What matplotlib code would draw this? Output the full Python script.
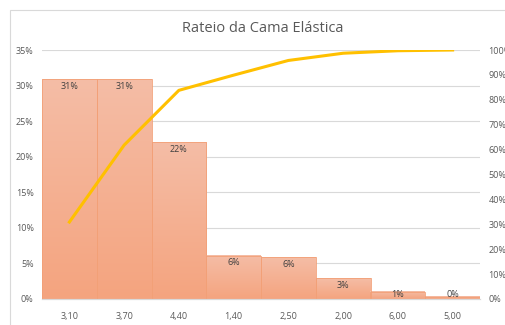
import matplotlib
matplotlib.use("Agg")
import matplotlib.pyplot as plt
import matplotlib.ticker as mticker
from matplotlib.colors import LinearSegmentedColormap
from matplotlib.patches import Rectangle
import numpy as np

# --- Data ---
categories = ["3,10", "3,70", "4,40", "1,40", "2,50", "2,00", "6,00", "5,00"]
share_pct = [30.9, 30.9, 22.0, 6.1, 5.9, 2.9, 1.0, 0.3]
cumulative_pct = [30.9, 61.8, 83.8, 89.9, 95.8, 98.7, 99.7, 100.0]
left_ticks = [0, 5, 10, 15, 20, 25, 30, 35]
right_ticks = [0, 10, 20, 30, 40, 50, 60, 70, 80, 90, 100]

plt.rcParams["font.family"] = ["Open Sans", "DejaVu Sans"]
text_color = "#595959"
grid_color = "#D9D9D9"

fig = plt.figure(figsize=(5.06, 3.25), dpi=100)
fig.patch.set_facecolor("white")

# chart border
fig.patches.append(Rectangle((10 / 506, -0.1), 1.2, 1 - 10 / 325 + 0.1,
                             transform=fig.transFigure, fill=False,
                             edgecolor="#D9D9D9", linewidth=0.8))

ax = fig.add_axes([42 / 506, 1 - 299 / 325, (480 - 42) / 506, (299 - 50) / 325])
ax2 = ax.twinx()

x = np.arange(len(categories))

# --- Bars with vertical gradient ---
grad = LinearSegmentedColormap.from_list("bar", ["#F4A47F", "#F5BDA6"])
for xi, h in zip(x, share_pct):
    g = np.linspace(0, 1, 100).reshape(-1, 1)
    ax.imshow(g, cmap=grad, origin="lower", aspect="auto",
              extent=[xi - 0.5, xi + 0.5, 0, h], zorder=2)
    ax.add_patch(Rectangle((xi - 0.5, 0), 1.0, h, fill=False,
                           edgecolor="#F2A077", linewidth=0.6, zorder=3))
    ax.text(xi, max(h - 1.0, 0.7), f"{h:.0f}%", ha="center", va="center",
            fontsize=6.5, color="#404040", zorder=4)

ax.set_xlim(-0.5, len(categories) - 0.5)
ax.set_ylim(0, 35)
ax.set_yticks(left_ticks)
ax.yaxis.set_major_formatter(mticker.FuncFormatter(lambda v, _: f"{v:.0f}%"))
ax.set_xticks(x)
ax.set_xticklabels(categories)
ax.grid(axis="y", color=grid_color, linewidth=0.8, zorder=0)
ax.set_axisbelow(True)

# --- Cumulative line ---
ax2.plot(x, cumulative_pct, color="#FFC000", linewidth=2.2, zorder=5)
ax2.set_ylim(0, 100)
ax2.set_yticks(right_ticks)
ax2.yaxis.set_major_formatter(mticker.FuncFormatter(lambda v, _: f"{v:.0f}%"))

for a in (ax, ax2):
    for s in ("top", "right", "left"):
        a.spines[s].set_visible(False)
    a.spines["bottom"].set_color(grid_color)
    a.tick_params(length=0, labelsize=6.5, labelcolor=text_color)
ax.tick_params(axis="x", pad=9)
ax.tick_params(axis="y", pad=6)
ax2.tick_params(axis="y", pad=6)

fig.text(263 / 506, 1 - 29 / 325, "Rateio da Cama Elástica", ha="center", va="center",
         fontsize=10.5, color=text_color)

fig.savefig("out.png", dpi=100, facecolor="white")
